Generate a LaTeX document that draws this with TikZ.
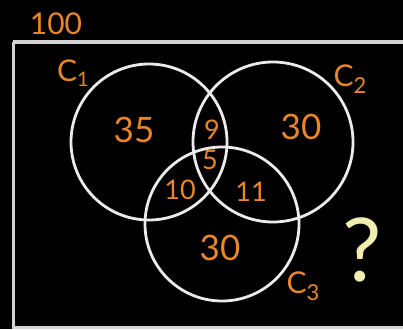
\documentclass[tikz,border=0pt]{standalone}
\usepackage{fontspec}
\setmainfont{Lato}
\definecolor{ora}{RGB}{232,134,40}
\definecolor{pale}{RGB}{240,238,175}
\definecolor{chalk}{RGB}{235,235,235}
\begin{document}
\begin{tikzpicture}[x=1pt,y=-1pt,
  setline/.style={draw=chalk,line width=2.8pt},
  lab/.style={text=ora,inner sep=0pt,font=\fontsize{30}{30}\selectfont},
  big/.style={text=ora,inner sep=0pt,font=\fontsize{35}{35}\selectfont},
  small/.style={text=ora,inner sep=0pt,font=\fontsize{27}{27}\selectfont}]
\fill[black] (0,0) rectangle (403,329);
\useasboundingbox (0,0) rectangle (403,329);
\draw[draw=chalk!90!black,line width=3pt] (13,42) -- (420,42) (13,42) -- (13,327) -- (420,327);
\node[setline,circle,minimum size=156pt,inner sep=0pt] (c1) at (149,142) {};
\node[setline,circle,minimum size=160pt,inner sep=0pt] (c2) at (273,142) {};
\node[setline,circle,minimum size=154pt,inner sep=0pt] (c3) at (222,224) {};
\node[lab] (tot) at (56,24) {100};
\node[lab] (l1) at (73,73) {C\raisebox{-0.35ex}{\fontsize{20}{20}\selectfont 1}};
\node[lab] (l2) at (350,79) {C\raisebox{-0.45ex}{\fontsize{22}{22}\selectfont 2}};
\node[lab] (l3) at (303,286) {C\raisebox{-0.45ex}{\fontsize{22}{22}\selectfont 3}};
\node[big] (a) at (134,130) {35};
\node[big] (b) at (301,127) {30};
\node[big] (c) at (220,248) {30};
\node[small] (ab) at (212,130) {9};
\node[small] (abc) at (210,160) {5};
\node[small] (ac) at (180,190) {10};
\node[small] (bc) at (251,192) {11};
\node[text=pale,inner sep=0pt,font=\fontsize{88}{88}\selectfont] (q) at (362,250) {?};
\end{tikzpicture}
\end{document}
